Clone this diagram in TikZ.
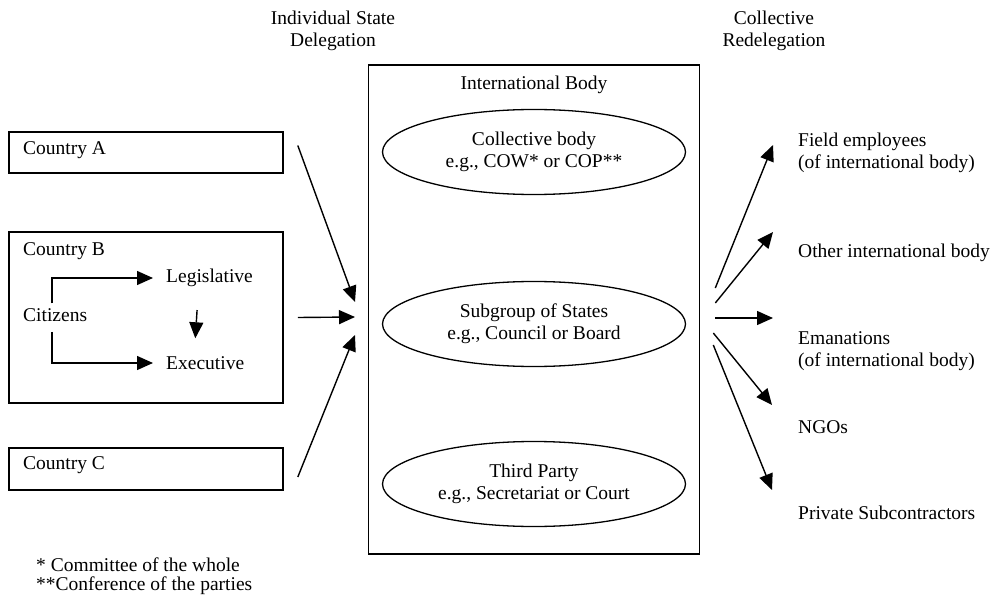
\documentclass[tikz,border=0pt]{standalone}
\usepackage{fontspec}
\setmainfont{Liberation Serif}
\usetikzlibrary{arrows.meta,shapes.geometric}

\begin{document}
\begin{tikzpicture}[x=1pt,y=-1pt,font=\fontsize{19.5}{22}\selectfont,
  lbl/.style={inner sep=0pt,anchor=west,align=left},
  box/.style={draw,rectangle,line width=1.6pt},
  oval/.style={draw,ellipse,line width=1.3pt,minimum width=303pt,minimum height=85pt,align=center,inner sep=0pt},
  arr/.style={line width=1.4pt,-{Triangle[length=16pt,width=14pt]}}]
\useasboundingbox (0,0) rectangle (1001,596);
\node[align=center] (hdrL) at (333,31) {Individual State\\Delegation};
\node[align=center] (hdrR) at (774,31) {Collective\\Redelegation};
\node[box,minimum width=331pt,minimum height=489pt] (body) at (534,309.5) {};
\node (bodyname) at (534,85) {International Body};
\node[oval] (coll) at (534,152) {Collective body\\e.g., COW* or COP**};
\node[oval] (sub) at (534,324) {Subgroup of States\\e.g., Council or Board};
\node[oval] (third) at (534,484) {Third Party\\e.g., Secretariat or Court};
\node[box,minimum width=274pt,minimum height=41pt] (ctyA) at (146,152.5) {};
\node[lbl] (ctyAname) at (23,150) {Country A};
\node[box,minimum width=274pt,minimum height=171pt] (ctyB) at (146,317.5) {};
\node[lbl] (ctyBname) at (23,251) {Country B};
\node[lbl] (legis) at (166,278) {Legislative};
\node[lbl] (cit) at (23,315) {Citizens};
\node[lbl] (exec) at (166,363) {Executive};
\node[box,minimum width=274pt,minimum height=42pt] (ctyC) at (146,469) {};
\node[lbl] (ctyCname) at (23,465) {Country C};
\draw[arr,shorten >=13pt] (cit.north) ++(-3,-5) |- (legis.west);
\draw[arr,shorten >=13pt] (cit.south) ++(-3,10) |- (exec.west);
\draw[arr,shorten <=23pt,shorten >=18pt] ([xshift=-11pt]legis.south) -- ([xshift=-11pt]exec.north);
\coordinate (inA) at (355,302);
\coordinate (inB) at (355,317);
\coordinate (inC) at (355,335);
\draw[arr] (ctyA.east) ++(14,-7) -- (inA);
\draw[arr] (ctyB.east) ++(14,0) -- (inB);
\draw[arr] (ctyC.east) ++(14,8) -- (inC);
\node[lbl] (field) at (798,152.5) {Field employees\\(of international body)};
\node[lbl] (other) at (798,253) {Other international body};
\node[lbl] (eman) at (798,351) {Emanations\\(of international body)};
\node[lbl] (ngo) at (798,427) {NGOs};
\node[lbl] (priv) at (798,513) {Private Subcontractors};
\coordinate (outF) at (773,145);
\coordinate (outO) at (773,232);
\coordinate (outE) at (773,318);
\coordinate (outN) at (772,405);
\coordinate (outP) at (772,490);
\draw[arr] (body.east) ++(15,-21.5) -- (outF);
\draw[arr] (body.east) ++(15,-6.5) -- (outO);
\draw[arr] (body.east) ++(15,8.5) -- (outE);
\draw[arr] (body.east) ++(13,23.5) -- (outN);
\draw[arr] (body.east) ++(13,35.5) -- (outP);
\node[lbl,font=\fontsize{19.5}{19}\selectfont] (notes) at (36,576.5) {* Committee of the whole\\**Conference of the parties};
\end{tikzpicture}
\end{document}
